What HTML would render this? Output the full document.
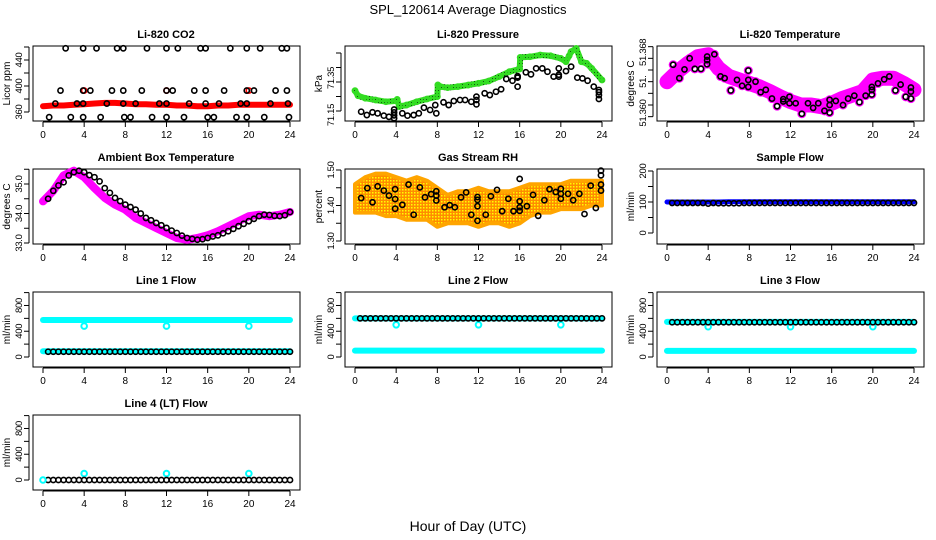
<!DOCTYPE html>
<html><head><meta charset="utf-8"><title>SPL_120614 Average Diagnostics</title>
<style>
html,body{margin:0;padding:0;background:#fff;}
svg{display:block;font-family:"Liberation Sans",Arial,sans-serif;}
</style></head>
<body>
<svg id="chart" width="936" height="540" viewBox="0 0 936 540" xmlns="http://www.w3.org/2000/svg">
<defs>
<pattern id="rhdots" width="3" height="3" patternUnits="userSpaceOnUse"><rect width="3" height="3" fill="#ff8c00"/><rect width="1.5" height="1.5" fill="#ffff00"/></pattern>
<pattern id="grdots" width="3" height="3" patternUnits="userSpaceOnUse"><rect width="3" height="3" fill="#33dd22"/><rect width="1" height="1" fill="#115511"/></pattern>
</defs>
<text x="468" y="14" text-anchor="middle" font-size="13">SPL_120614  Average Diagnostics</text>
<text x="468" y="531" text-anchor="middle" font-size="14">Hour of Day (UTC)</text>
</svg>
<script>
// ---- data arrays ----
const hours = [0,1,2,3,4,5,6,7,8,9,10,11,12,13,14,15,16,17,18,19,20,21,22,23,24];
const xTickValues = [0,4,8,12,16,20,24];
const halfHours = [0.5,1,1.5,2,2.5,3,3.5,4,4.5,5,5.5,6,6.5,7,7.5,8,8.5,9,9.5,10,10.5,11,11.5,12,12.5,13,13.5,14,14.5,15,15.5,16,16.5,17,17.5,18,18.5,19,19.5,20,20.5,21,21.5,22,22.5,23,23.5,24];

// CO2
const co2RedBand = [369,370,370,371,372,373,374,374,373,372,372,371,371,370,370,369,369,370,370,371,371,371,371,371,371];
const co2RedPtTimes = [4,12,20];
const co2RedPtValues = [393,393,393];
const co2Times = [2.2,3.9,5.2,7.2,7.8,10.1,12,13.1,15.3,15.8,18.2,19.8,21.1,23.2,23.7,
 1.7,3.9,4.6,6.7,7.8,9.6,12,12.6,14.7,15.8,17.6,19.8,20.5,22.6,23.7,
 1.2,3.3,3.9,6.2,7.8,9,11.3,12,14.2,15.8,17.1,19.2,19.8,22.1,23.8,
 0.6,2.7,3.9,5.6,7.9,8.5,10.6,12,13.7,16,16.6,18.8,19.8,21.5,23.9];
const co2Values = [458,458,458,458,458,458,458,458,458,458,458,458,458,458,458,
 393,393,393,393,393,393,393,393,393,393,393,393,393,393,393,
 373,373,373,373,373,373,373,373,373,373,373,373,373,373,373,
 352,352,352,352,352,352,352,352,352,352,352,352,352,352,352];

// Pressure
const presGreenTimes = [0,0.3,1,2,3,4,4.1,4.3,5,6,7,8,8.05,8.3,9,10,11,12,13,14,15,16,16.05,17,18,19,20,20.5,20.8,21,21.5,22,22.5,23,24];
const presGreenValues = [71.29,71.255,71.238,71.226,71.214,71.22,71.23,71.18,71.191,71.214,71.233,71.249,71.33,71.318,71.311,71.318,71.329,71.341,71.357,71.387,71.421,71.44,71.52,71.524,71.536,71.531,71.513,71.49,71.53,71.559,71.582,71.49,71.479,71.444,71.364];
const presTimes = [0.6,1.15,1.7,2.2,2.8,3.3,3.8,3.8,3.8,3.8,4.6,5.1,5.7,6.2,6.7,7.3,7.8,7.9,8.6,9.1,9.6,10.2,10.7,11.3,11.8,11.8,11.8,12.6,13.1,13.7,14.2,14.7,15.3,15.8,15.8,15.8,16.6,17.1,17.6,18.2,18.7,19.3,19.8,19.8,19.8,20.5,21,21.6,22.1,22.6,23.2,23.7,23.7,23.7,23.7];
const presValues = [71.145,71.122,71.141,71.134,71.118,71.11,71.10,71.12,71.14,71.16,71.134,71.118,71.122,71.134,71.173,71.157,71.191,71.134,71.21,71.191,71.219,71.226,71.226,71.214,71.196,71.226,71.249,71.272,71.26,71.283,71.30,71.371,71.359,71.38,71.318,71.39,71.417,71.403,71.444,71.444,71.421,71.387,71.444,71.40,71.387,71.425,71.456,71.38,71.375,71.359,71.318,71.295,71.26,71.233,71.28];

// Li-820 temperature
const tempBand = [51.3640,51.3657,51.3671,51.3683,51.3686,51.3663,51.3649,51.3643,51.3637,51.3631,51.3623,51.3614,51.3606,51.3600,51.3600,51.3597,51.3603,51.3611,51.3617,51.3623,51.3643,51.3646,51.3646,51.3637,51.3626];
const tempTimes = [0.6,1.2,1.7,2.2,2.7,3.3,3.9,3.9,3.9,4.6,5.2,5.6,6.2,6.8,7.3,7.9,7.9,7.9,8.6,9.1,9.6,10.2,10.7,11.3,11.3,11.9,11.9,12.5,13.1,13.7,14.2,14.7,15.3,15.8,15.8,15.8,16.4,17.1,17.6,18.2,18.7,19.3,19.9,19.9,19.9,20.5,21.1,21.6,22.2,22.7,23.2,23.7,23.7,23.7];
const tempValues = [51.3669,51.3646,51.3661,51.3680,51.3662,51.3662,51.3683,51.3677,51.3670,51.3687,51.3649,51.3646,51.3625,51.3643,51.3633,51.3659,51.3643,51.3631,51.3640,51.3622,51.3626,51.3611,51.3598,51.3610,51.3606,51.3614,51.3603,51.3603,51.3585,51.3603,51.3595,51.3603,51.3590,51.3609,51.3600,51.3587,51.3607,51.3600,51.3611,51.3616,51.3605,51.3616,51.3631,51.3626,51.3618,51.3637,51.3644,51.3649,51.3625,51.3635,51.3614,51.3630,51.3623,51.3611];

// Ambient box temperature
const ambBand = [34.41,34.77,35.29,35.45,35.23,34.86,34.53,34.30,34.13,33.85,33.68,33.51,33.34,33.17,33.11,33.17,33.26,33.40,33.57,33.74,33.91,33.96,33.91,33.96,34.05];
const ambValues = [34.50,34.77,34.95,35.06,35.29,35.40,35.45,35.40,35.30,35.23,35.09,34.86,34.70,34.53,34.42,34.30,34.22,34.13,34.00,33.85,33.77,33.68,33.60,33.51,33.42,33.34,33.25,33.17,33.14,33.11,33.13,33.17,33.22,33.26,33.33,33.40,33.48,33.57,33.65,33.74,33.82,33.91,33.96,33.95,33.92,33.91,33.94,34.05];

// Gas stream RH
const rhUpper = [1.46,1.48,1.49,1.49,1.48,1.47,1.48,1.47,1.45,1.43,1.44,1.44,1.45,1.44,1.44,1.44,1.45,1.46,1.46,1.46,1.46,1.47,1.47,1.47,1.47];
const rhLower = [1.38,1.38,1.38,1.37,1.37,1.36,1.36,1.36,1.34,1.35,1.35,1.35,1.34,1.35,1.35,1.34,1.35,1.37,1.38,1.38,1.39,1.39,1.39,1.40,1.40];
const rhTimes = [0.6,1.2,1.7,2.2,2.8,3.3,3.9,3.9,3.9,4.6,5.2,5.7,6.3,6.8,7.4,7.9,7.9,7.9,8.7,9.2,9.7,10.3,10.8,11.3,11.9,11.9,11.9,11.9,12.7,13.2,13.8,14.3,14.9,15.4,16,16,16,16,16.7,17.3,17.8,18.4,18.9,19.5,20,20,20,20.7,21.2,21.8,22.3,22.9,23.4,23.9,23.9,23.9,23.9];
const rhValues = [1.421,1.449,1.409,1.454,1.442,1.428,1.446,1.418,1.391,1.402,1.459,1.374,1.451,1.423,1.432,1.440,1.414,1.428,1.395,1.401,1.395,1.423,1.437,1.374,1.357,1.398,1.416,1.424,1.374,1.426,1.444,1.384,1.419,1.384,1.475,1.412,1.395,1.385,1.398,1.430,1.371,1.415,1.446,1.438,1.447,1.433,1.419,1.433,1.415,1.433,1.376,1.456,1.393,1.498,1.485,1.459,1.442];

// Flows
const sampleBlue = [100,100,100,100,100,100,101,101,101,101,101,101,101,101,101,101,101,101,101,101,101,101,101,101,101];
const sampleBlack = [97,97,97,97,97,97,97,95,97,96,96,96,96,96,97,97,97,97,97,97,97,97,97,97,97,97,97,97,97,97,97,97,97,97,97,97,97,97,97,97,97,97,97,97,97,97,97,97];
const line1CyanHi = [575,575,575,575,575,575,575,575,575,575,575,575,575,575,575,575,575,575,575,575,575,575,575,575,575];
const line1CyanLo = [90,90,90,90,90,90,90,90,90,90,90,90,90,90,90,90,90,90,90,90,90,90,90,90,90];
const line1Black = [82,82,82,82,82,82,82,82,82,82,82,82,82,82,82,82,82,82,82,82,82,82,82,82,82,82,82,82,82,82,82,82,82,82,82,82,82,82,82,82,82,82,82,82,82,82,82,82];
const line2CyanHi = [600,600,600,600,600,600,600,600,600,600,600,600,600,600,600,600,600,600,600,600,600,600,600,600,600];
const line2CyanLo = [100,100,100,100,100,100,100,100,100,100,100,100,100,100,100,100,100,100,100,100,100,100,100,100,100];
const line2Black = [600,600,600,600,600,600,600,600,600,600,600,600,600,600,600,600,600,600,600,600,600,600,600,600,600,600,600,600,600,600,600,600,600,600,600,600,600,600,600,600,600,600,600,600,600,600,600,600];
const line3CyanHi = [545,545,545,545,545,545,545,545,545,545,545,545,545,545,545,545,545,545,545,545,545,545,545,545,545];
const line3CyanLo = [95,95,95,95,95,95,95,95,95,95,95,95,95,95,95,95,95,95,95,95,95,95,95,95,95];
const line3Black = [540,540,540,540,540,540,540,540,540,540,540,540,540,540,540,540,540,540,540,540,540,540,540,540,540,540,540,540,540,540,540,540,540,540,540,540,540,540,540,540,540,540,540,540,540,540,540,540];
const line4Black = [0,0,0,0,0,0,0,0,0,0,0,0,0,0,0,0,0,0,0,0,0,0,0,0,0,0,0,0,0,0,0,0,0,0,0,0,0,0,0,0,0,0,0,0,0,0,0,0];
const outlierTimes = [4,12,20];
const line1Outliers = [480,480,480];
const line2Outliers = [500,500,500];
const line3Outliers = [470,470,470];
const line4Outliers = [100,100,100];

// ---- drawing ----
const NS = "http://www.w3.org/2000/svg";
const svg = document.getElementById('chart');
const COLX = [0,312,624];
const ROWY = [46,169,292,415];
const BOXH = 75;

function mk(tag, attrs, name, parent) {
  const el = document.createElementNS(NS, tag);
  for (const k in attrs) el.setAttribute(k, attrs[k]);
  
  
  (parent || svg).appendChild(el);
  return el;
}
function xs(col) { return t => 43 + COLX[col] + t * 247 / 24; }

function frame(col, row, title, ylab, ticks, labels, labelVals, y, g, labelShift) {
  const bx = 33 + COLX[col], by = ROWY[row];
  mk('text', {x: 166 + COLX[col], y: by - 8, 'text-anchor': 'middle', 'font-size': 11, 'font-weight': 'bold'}, 'panel-title', g).textContent = title;
  mk('rect', {x: bx, y: by, width: 267, height: BOXH, fill: 'none', stroke: '#000', 'stroke-width': 1}, 'plot-frame', g);
  const x = xs(col);
  const xa = mk('g', {}, 'x-axis', g);
  mk('line', {x1: x(0), x2: x(24), y1: by + BOXH + 1, y2: by + BOXH + 1, stroke: '#000'}, 'x-axis-line', xa);
  xTickValues.forEach(v => {
    mk('line', {x1: x(v), x2: x(v), y1: by + BOXH + 1, y2: by + BOXH + 6, stroke: '#000'}, 'x-tick', xa);
    mk('text', {x: x(v), y: by + BOXH + 17, 'text-anchor': 'middle', 'font-size': 10}, 'x-tick-label', xa).textContent = v;
  });
  const ya = mk('g', {}, 'y-axis', g);
  mk('line', {x1: bx - 4, x2: bx - 4, y1: y(ticks[0]), y2: y(ticks[ticks.length - 1]), stroke: '#000'}, 'y-axis-line', ya);
  ticks.forEach(v => {
    mk('line', {x1: bx - 9, x2: bx - 4, y1: y(v), y2: y(v), stroke: '#000'}, 'y-tick', ya);
  });
  labels.forEach((s, i) => {
    const yy = y(labelVals[i]) + (labelShift ? labelShift[i] : 0);
    const tx = 22 + COLX[col];
    mk('text', {x: tx, y: yy, transform: `rotate(-90 ${tx} ${yy})`, 'text-anchor': 'middle', 'font-size': 9.5, 'letter-spacing': '-0.3'}, 'y-tick-label', ya).textContent = s;
  });
  const lx = 10 + COLX[col], ly = by + BOXH / 2;
  mk('text', {x: lx, y: ly, transform: `rotate(-90 ${lx} ${ly})`, 'text-anchor': 'middle', 'font-size': 10}, 'y-axis-title', g).textContent = ylab;
}
function band(g, x, y, ts, vs, color, w, name) {
  const pts = ts.map((t, i) => x(t).toFixed(1) + ',' + y(vs[i]).toFixed(1)).join(' ');
  mk('polyline', {points: pts, fill: 'none', stroke: color, 'stroke-width': w, 'stroke-linejoin': 'round', 'stroke-linecap': 'round'}, name, g);
}
function pts(g, x, y, ts, vs, color, name, r, sw) {
  ts.forEach((t, i) => {
    mk('circle', {cx: x(t), cy: y(vs[i]), r: r || 2.6, fill: 'none', stroke: color, 'stroke-width': sw || 1.6}, name, g);
  });
}

// Panel 1: CO2
(function () {
  const g = mk('g', {}, 'panel-co2');
  const x = xs(0), y = v => 112 - (v - 360) * 0.65;
  frame(0, 0, 'Li-820 CO2', 'Licor ppm', [360,380,400,420,440,460], ['360','400','440'], [360,400,440], y, g);
  band(g, x, y, hours, co2RedBand, '#ff0000', 6, 'co2-band');
  pts(g, x, y, co2RedPtTimes, co2RedPtValues, '#ff0000', 'co2-red-point');
  pts(g, x, y, co2Times, co2Values, '#000', 'co2-point');
})();

// Panel 2: Pressure
(function () {
  const g = mk('g', {}, 'panel-pressure');
  const x = xs(1), y = v => 111 - (v - 71.15) * 145;
  frame(1, 0, 'Li-820 Pressure', 'kPa', [71.15,71.25,71.35,71.45,71.55], ['71.15','71.35'], [71.15,71.35], y, g, [4,-4]);
  band(g, x, y, presGreenTimes, presGreenValues, 'url(#grdots)', 6, 'pressure-band');
  pts(g, x, y, presGreenTimes, presGreenValues, '#33dd22', 'pressure-green-point');
  pts(g, x, y, presTimes, presValues, '#000', 'pressure-point');
})();

// Panel 3: Li-820 Temperature
(function () {
  const g = mk('g', {}, 'panel-li820-temp');
  const x = xs(2), y = v => 105 - (v - 51.36) * 5833;
  frame(2, 0, 'Li-820 Temperature', 'degrees C', [51.358,51.360,51.362,51.364,51.366,51.368,51.370], ['51.360','51.','51.368'], [51.360,51.364,51.368], y, g, [8,0,-6]);
  band(g, x, y, hours, tempBand, '#ff00ff', 15, 'temp-band');
  pts(g, x, y, tempTimes, tempValues, '#ff00ff', 'temp-magenta-point', 3.5, 2);
  pts(g, x, y, tempTimes, tempValues, '#000', 'temp-point');
})();

// Panel 4: Ambient Box Temperature
(function () {
  const g = mk('g', {}, 'panel-ambient-temp');
  const x = xs(0), y = v => 243 - (v - 33) * 29.5;
  frame(0, 1, 'Ambient Box Temperature', 'degrees C', [33.0,33.5,34.0,34.5,35.0,35.5], ['33.0','34.0','35.0'], [33,34,35], y, g);
  band(g, x, y, hours, ambBand, '#ff00ff', 8, 'ambient-band');
  pts(g, x, y, halfHours, ambValues, '#000', 'ambient-point');
})();

// Panel 5: Gas Stream RH
(function () {
  const g = mk('g', {}, 'panel-rh');
  const x = xs(1), y = v => 241 - (v - 1.3) * 355;
  frame(1, 1, 'Gas Stream RH', 'percent', [1.30,1.35,1.40,1.45,1.50], ['1.30','1.40','1.50'], [1.3,1.4,1.5], y, g);
  const up = hours.map((t, i) => x(t).toFixed(1) + ',' + y(rhUpper[i]).toFixed(1));
  const lo = hours.map((t, i) => x(t).toFixed(1) + ',' + y(rhLower[i]).toFixed(1)).reverse();
  mk('polygon', {points: up.concat(lo).join(' '), fill: 'url(#rhdots)', stroke: '#ffa500', 'stroke-width': 4, 'stroke-linejoin': 'round'}, 'rh-band', g);
  pts(g, x, y, rhTimes, rhValues, '#000', 'rh-point');
})();

// Panel 6: Sample Flow
(function () {
  const g = mk('g', {}, 'panel-sample-flow');
  const x = xs(2), y = v => 233 - v * 0.31;
  frame(2, 1, 'Sample Flow', 'ml/min', [0,50,100,150,200], ['0','100','200'], [0,100,200], y, g);
  band(g, x, y, hours, sampleBlue, '#0000ff', 5, 'sample-band');
  pts(g, x, y, halfHours, sampleBlack, '#000', 'sample-point');
})();

function flowPanel(col, row, title, hi, lo, black, outl, name, y0) {
  const g = mk('g', {}, name);
  const x = xs(col), y = v => y0 - v * 0.0644;
  frame(col, row, title, 'ml/min', [0,200,400,600,800,1000], ['0','400','800'], [0,400,800], y, g);
  if (hi) band(g, x, y, hours, hi, '#00ffff', 6, 'cyan-band-high');
  if (lo) band(g, x, y, hours, lo, '#00ffff', 6, 'cyan-band-low');
  pts(g, x, y, outlierTimes, outl, '#00ffff', 'cyan-outlier', 2.8, 2);
  pts(g, x, y, halfHours, black, '#000', 'flow-point');
  return {g, x, y};
}
flowPanel(0, 2, 'Line 1 Flow', line1CyanHi, line1CyanLo, line1Black, line1Outliers, 'panel-line1-flow', 357);
flowPanel(1, 2, 'Line 2 Flow', line2CyanHi, line2CyanLo, line2Black, line2Outliers, 'panel-line2-flow', 357);
flowPanel(2, 2, 'Line 3 Flow', line3CyanHi, line3CyanLo, line3Black, line3Outliers, 'panel-line3-flow', 357);
const p4 = flowPanel(0, 3, 'Line 4 (LT) Flow', null, null, line4Black, line4Outliers, 'panel-line4-flow', 480);
pts(p4.g, p4.x, p4.y, [0], [0], '#00ffff', 'cyan-start-point', 2.8, 2);
</script>
</body></html>
